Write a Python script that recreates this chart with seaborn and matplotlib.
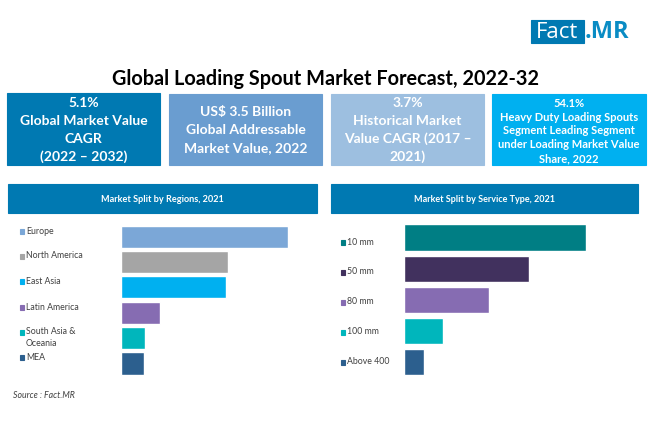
import matplotlib
matplotlib.use('Agg')
import matplotlib.pyplot as plt
from matplotlib.patches import Rectangle
import pandas as pd
import seaborn as sns

W, H = 650, 443

title = 'Global Loading Spout Market Forecast, 2022-32'
source = 'Source : Fact.MR'

card_texts = [
    ['5.1%', 'Global Market Value', 'CAGR', '(2022 – 2032)'],
    ['US$ 3.5 Billion', 'Global Addressable', 'Market Value, 2022'],
    ['3.7%', 'Historical Market', 'Value CAGR (2017 –', '2021)'],
    ['54.1%', 'Heavy Duty Loading Spouts', 'Segment Leading Segment', 'under Loading Market Value', 'Share, 2022'],
]

region_title = 'Market Split by Regions, 2021'
regions = ['Europe', 'North America', 'East Asia', 'Latin America', 'South Asia &\nOceania', 'MEA']
region_values = [100, 64, 63, 23.3, 14.5, 14.3]
region_colors = ['#7BA7D7', '#A5A5A5', '#00B0F0', '#866CB2', '#00B6BC', '#2C5F8E']

service_title = 'Market Split by Service Type, 2021'
services = ['10 mm', '50 mm', '80 mm', '100 mm', 'Above 400']
service_values = [100, 69, 47, 21.5, 11.3]
service_colors = ['#007E84', '#41315E', '#866CB2', '#00B6BC', '#2C5F8E']

sns.set_theme(style='white')
plt.rcParams['font.family'] = ['Lato', 'DejaVu Sans']

fig = plt.figure(figsize=(W / 100, H / 100), dpi=100, facecolor='white')

# overlay in pixel coords for cards, headers and labels
bg = fig.add_axes([0, 0, 1, 1])
bg.set_xlim(0, W)
bg.set_ylim(H, 0)
bg.axis('off')


def box(x0, y0, x1, y1, color):
    bg.add_patch(Rectangle((x0, y0), x1 - x0, y1 - y0, facecolor=color, edgecolor=color, linewidth=0.8))


# logo
box(531, 20, 584, 43, '#0079B2')
bg.text(557, 32, 'Fact', color='white', fontsize=16, ha='center', va='center', family='Open Sans')
bg.text(585, 32, '.MR', color='#0A8CC4', fontsize=17, ha='left', va='center', family='Open Sans', fontweight='bold')

bg.text(326, 79, title, color='black', fontsize=14.3, ha='center', va='center', fontweight='bold')

# cards, text line by line so spacing follows the reference
card_boxes = [(7, 93, 160, 165), (169, 94, 322, 165), (331, 94, 484, 165), (492, 94, 646, 165)]
card_colors = ['#0079B2', '#6A9DD0', '#9DBFE0', '#00B0F0']
card_size = [10, 10, 10, 8]
card_first = [103, 112, 103, 103]
card_pitch = [18, 18, 18, 14]
for (x0, y0, x1, y1), c, lines, fs, first, pitch in zip(card_boxes, card_colors, card_texts,
                                                        card_size, card_first, card_pitch):
    box(x0, y0, x1, y1, c)
    for i, line in enumerate(lines):
        bg.text((x0 + x1) / 2, first + i * pitch, line, color='white', fontsize=fs,
                ha='center', va='center', fontweight='bold')

# section headers
box(8, 184, 317, 213, '#0079B2')
bg.text(162, 199, region_title, color='white', fontsize=6.6, ha='center', va='center', fontweight='bold')
box(331, 184, 638, 213, '#0079B2')
bg.text(484.5, 199, service_title, color='white', fontsize=6.5, ha='center', va='center', fontweight='bold')


def bars(cats, vals, colors, x0, x1, y0, y1, width):
    ax = fig.add_axes([x0 / W, 1 - y1 / H, (x1 - x0) / W, (y1 - y0) / H])
    df = pd.DataFrame({'cat': cats, 'val': vals})
    sns.barplot(data=df, y='cat', x='val', hue='cat', palette=colors, legend=False,
                width=width, saturation=1, ax=ax)
    ax.set_xlim(0, 100)
    ax.set_ylim(len(cats) - 0.5, -0.5)
    ax.axis('off')
    ax.patch.set_alpha(0)


bars(regions, region_values, region_colors, 120.5, 288, 224, 376.2, 0.87)
bars(services, service_values, service_colors, 403.5, 585.5, 222, 377.5, 0.84)

# category keys
region_y = [231, 256, 281.5, 307, 332, 357]
for name, c, y in zip(regions, region_colors, region_y):
    box(19.5, y - 2.5, 24, y + 2.5, c)
    if '\n' in name:
        bg.text(26, y - 4.5, name, color='#404040', fontsize=6.3, ha='left', va='top', linespacing=1.3)
    else:
        bg.text(26, y, name, color='#404040', fontsize=6.3, ha='left', va='center')

service_y = [242, 272, 302, 332, 362]
for name, c, y in zip(services, service_colors, service_y):
    box(340.5, y - 2.5, 345, y + 2.5, c)
    bg.text(347, y, name, color='#404040', fontsize=6.3, ha='left', va='center')

bg.text(13, 396, source, color='#404040', fontsize=6.3, ha='left', va='center', style='italic')

fig.savefig('out.png', dpi=100)
